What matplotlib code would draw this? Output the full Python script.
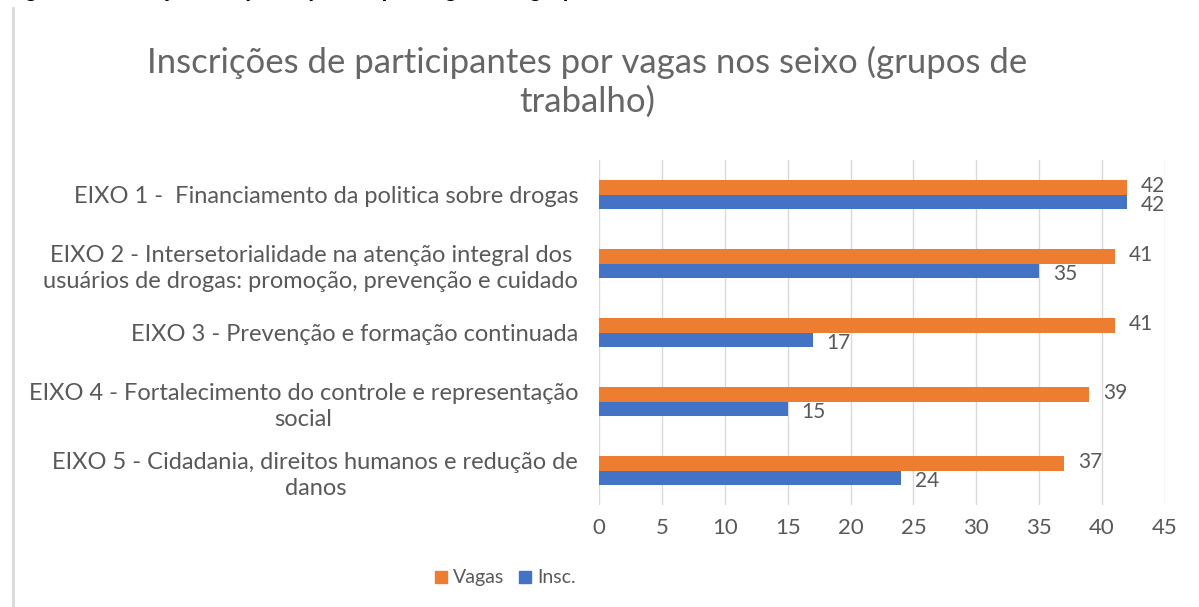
import numpy as np
import matplotlib
matplotlib.use('Agg')
from matplotlib import pyplot as plt
from matplotlib.lines import Line2D

plt.rcParams['font.family'] = ['Lato', 'DejaVu Sans']

# dados
eixos = ['EIXO 1 -  Financiamento da politica sobre drogas',
         'EIXO 2 - Intersetorialidade na atenção integral dos\nusuários de drogas: promoção, prevenção e cuidado',
         'EIXO 3 - Prevenção e formação continuada',
         'EIXO 4 - Fortalecimento do controle e representação\nsocial',
         'EIXO 5 - Cidadania, direitos humanos e redução de\ndanos']
vagas = [42, 41, 41, 39, 37]
insc = [42, 35, 17, 15, 24]
xticks = [0, 5, 10, 15, 20, 25, 30, 35, 40, 45]

cor_vagas = '#ED7D31'
cor_insc = '#4472C4'
cinza = '#595959'

fig = plt.figure(figsize=(11.99, 6.07), dpi=100)
ax = fig.add_axes([0.4996, 0.168, 0.4720, 0.568])

y = np.arange(len(eixos))
h = 0.21
ax.barh(y - h / 2, vagas, height=h, color=cor_vagas, label='Vagas', zorder=3)
ax.barh(y + h / 2, insc, height=h, color=cor_insc, label='Insc.', zorder=3)

for i in range(len(eixos)):
    ax.annotate(str(vagas[i]), (vagas[i], y[i] - h / 2), xytext=(10, 1),
                textcoords='offset points', va='center', ha='left',
                color=cinza, fontsize=15)
    ax.annotate(str(insc[i]), (insc[i], y[i] + h / 2), xytext=(10, -2),
                textcoords='offset points', va='center', ha='left',
                color=cinza, fontsize=15)

ax.set_xlim(0, 45)
ax.set_ylim(len(eixos) - 0.5, -0.5)
ax.set_xticks(xticks)
ax.set_yticks(y)
ax.set_yticklabels(eixos, ha='right', multialignment='center', linespacing=1.3)
ax.tick_params(axis='both', length=0, colors=cinza, labelsize=17)
ax.tick_params(axis='x', pad=9, labelsize=16)
ax.tick_params(axis='y', pad=15)
ax.grid(axis='x', color='#D9D9D9', linewidth=1, zorder=0)
for s in ax.spines.values():
    s.set_visible(False)

fig.text(0.49, 0.865, 'Inscrições de participantes por vagas nos seixo (grupos de\ntrabalho)',
         ha='center', va='center', fontsize=25, color='#666666', linespacing=1.25)

leg_handles = [Line2D([], [], marker='s', ls='', color=cor_vagas, markersize=8),
               Line2D([], [], marker='s', ls='', color=cor_insc, markersize=8)]
fig.legend(leg_handles, ['Vagas', 'Insc.'], loc='center', bbox_to_anchor=(0.42, 0.048),
           ncol=2, frameon=False, fontsize=14, labelcolor=cinza,
           handlelength=1.0, handletextpad=0.1, columnspacing=0.6)

# borda da área do gráfico e legenda cortada no topo
fig.add_artist(Line2D([0.011, 0.011], [0.0, 0.987], color='#D9D9D9', lw=2))
fig.text(0.005, 1.0055, 'Figura 5 - Inscrições de participantes por vagas nos grupos',
         ha='left', va='baseline', fontsize=15, fontweight='bold', color='black',
         family=['Liberation Sans'])

fig.savefig('out.png', dpi=100, facecolor='white')
